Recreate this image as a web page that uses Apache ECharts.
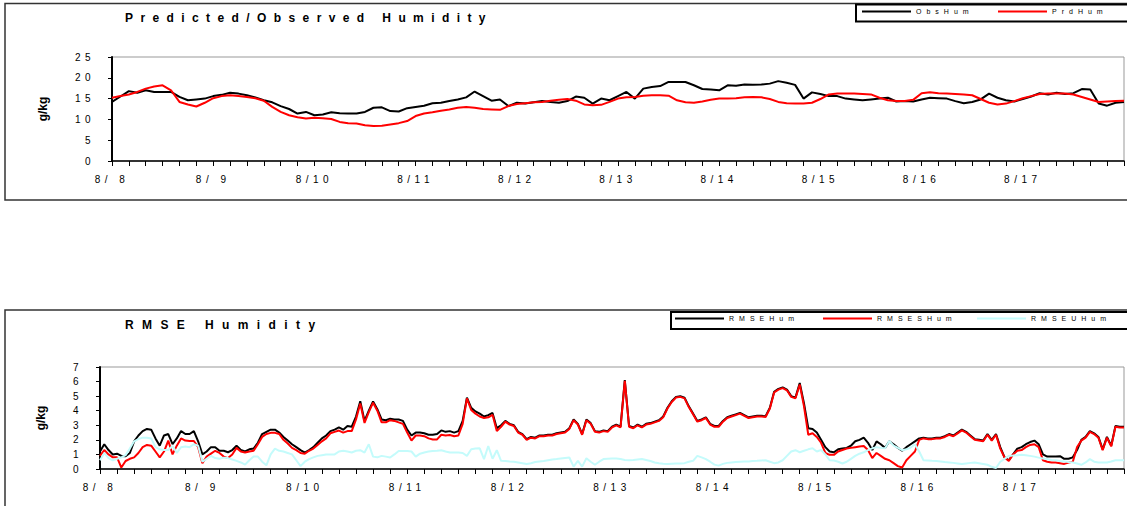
<!DOCTYPE html>
<html>
<head>
<meta charset="utf-8">
<script src="https://cdn.jsdelivr.net/npm/echarts@6/dist/echarts.min.js"></script>
<style>
  html, body { margin: 0; padding: 0; background: #fff; overflow: hidden; }
  #chart { width: 1127px; height: 506px; }
  /* the old chart uses very loose letter spacing */
  #chart text[style*="lsA"] { letter-spacing: 4.5px !important; }
  #chart text[style*="lsL"] { letter-spacing: 5px !important; }
  #chart text[style*="lsTa"] { letter-spacing: 7.4px !important; }
  #chart text[style*="lsTb"] { letter-spacing: 8.4px !important; }
</style>
</head>
<body>
<div id="chart"></div>
<script>
// x axis: hours from 8/8 00:00, one label per day
const dayLabels = ['8/ 8', '8/ 9', '8/10', '8/11', '8/12', '8/13', '8/14', '8/15', '8/16', '8/17', ''];

// top chart, one value every 2 hours
const humStep = 2;
const obsHum = [
  14.2, 15.5, 16.8, 16.4, 17.0, 16.6, 16.6, 16.6, 15.4, 14.6,
  14.8, 15.0, 15.6, 15.9, 16.4, 16.2, 15.8, 15.3, 14.6, 14.1,
  13.2, 12.5, 11.4, 11.8, 11.0, 11.2, 11.7, 11.5, 11.4, 11.4,
  11.8, 12.8, 12.9, 12.0, 11.9, 12.7, 13.0, 13.3, 13.9, 14.0,
  14.4, 14.8, 15.3, 16.7, 15.6, 14.5, 14.8, 13.2, 14.0, 13.8,
  14.1, 14.4, 14.2, 14.0, 14.4, 15.5, 15.2, 13.8, 15.0, 14.6,
  15.6, 16.6, 15.0, 17.4, 17.8, 18.0, 19.0, 19.0, 19.0, 18.2,
  17.3, 17.2, 17.0, 18.2, 18.1, 18.4, 18.3, 18.4, 18.6, 19.2,
  18.8, 18.3, 15.0, 16.5, 16.1, 15.6, 15.6, 15.0, 14.8, 14.6,
  14.8, 15.0, 15.2, 14.3, 14.4, 14.3, 14.8, 15.2, 15.1, 15.0,
  14.4, 13.9, 14.2, 14.8, 16.2, 15.2, 14.6, 14.3, 14.9, 15.5,
  16.3, 16.0, 16.4, 16.1, 16.3, 17.3, 17.2, 13.8, 13.3, 14.0,
  14.2
];
const prdHum = [
  15.2, 15.6, 16.0, 16.6, 17.4, 17.9, 18.2, 17.0, 14.2, 13.6,
  13.1, 14.0, 15.1, 15.6, 15.8, 15.6, 15.4, 15.1, 14.5, 13.0,
  11.8, 11.0, 10.5, 10.2, 10.4, 10.3, 10.1, 9.4, 9.1, 9.0,
  8.6, 8.4, 8.5, 8.8, 9.1, 9.6, 10.8, 11.4, 11.7, 12.1,
  12.4, 12.8, 13.0, 12.8, 12.5, 12.4, 12.3, 13.2, 13.7, 13.9,
  14.1, 14.2, 14.5, 14.7, 14.9, 14.5, 13.6, 13.4, 13.5, 14.2,
  15.0, 15.3, 15.4, 15.7, 15.8, 15.8, 15.7, 14.6, 14.1, 14.0,
  14.3, 14.7, 15.0, 15.0, 15.1, 15.3, 15.4, 15.3, 14.9, 14.2,
  13.9, 13.8, 13.8, 14.0, 14.9, 16.0, 16.2, 16.2, 16.2, 16.1,
  16.0, 15.2, 14.6, 14.4, 14.4, 14.7, 16.3, 16.5, 16.3, 16.2,
  16.1, 16.0, 15.8, 14.9, 14.0, 13.6, 13.8, 14.4, 15.1, 15.6,
  16.1, 16.2, 16.2, 16.2, 16.0, 15.4, 14.8, 14.2, 14.3, 14.4,
  14.5
];

// bottom chart, hourly
const rmseStep = 1;
const rmseHum = [
  1.2, 1.7, 1.3, 1.0, 1.05, 0.9, 0.88, 1.1, 1.9, 2.3, 2.6, 2.75,
  2.7, 2.1, 1.6, 2.3, 2.4, 1.7, 2.1, 2.6, 2.4, 2.4, 2.6, 1.9,
  1.0, 1.2, 1.5, 1.5, 1.25, 1.25, 1.15, 1.3, 1.6, 1.3, 1.2, 1.35,
  1.4, 1.8, 2.4, 2.55, 2.7, 2.7, 2.5, 2.2, 1.95, 1.7, 1.5, 1.3,
  1.13, 1.3, 1.5, 1.8, 2.1, 2.3, 2.6, 2.7, 2.85, 2.7, 2.95, 2.9,
  3.6, 4.65, 3.3, 4.0, 4.63, 4.1, 3.4, 3.35, 3.45, 3.4, 3.4, 3.3,
  2.7, 2.3, 2.5, 2.5, 2.45, 2.35, 2.35, 2.4, 2.65, 2.55, 2.6, 2.5,
  2.6, 3.3, 4.9, 4.2, 3.95, 3.8, 3.6, 3.7, 3.85, 2.8, 3.0, 3.3,
  3.1, 3.0, 2.55, 2.4, 2.05, 2.2, 2.15, 2.3, 2.3, 2.35, 2.35, 2.45,
  2.5, 2.55, 2.8, 3.4, 3.1, 2.4, 3.4, 3.15, 2.6, 2.55, 2.65, 2.6,
  2.9, 3.05, 2.9, 6.1, 2.95, 2.85, 3.05, 2.9, 3.1, 3.15, 3.25, 3.35,
  3.6, 4.2, 4.65, 4.95, 5.0, 4.9, 4.3, 3.8, 3.3, 3.4, 3.55, 3.1,
  2.95, 2.95, 3.3, 3.55, 3.65, 3.75, 3.85, 3.7, 3.55, 3.6, 3.65, 3.65,
  3.62, 4.2, 5.3, 5.5, 5.6, 5.45, 5.0, 4.9, 5.9, 4.5, 2.8, 2.75,
  2.5, 2.0, 1.5, 1.2, 1.15, 1.35, 1.4, 1.45, 1.6, 1.9, 2.0, 2.15,
  1.8, 1.3, 1.9, 1.7, 1.45, 1.9, 1.7, 1.45, 1.25, 1.5, 1.7, 1.9,
  2.1, 2.15, 2.1, 2.1, 2.15, 2.15, 2.25, 2.4, 2.3, 2.5, 2.7, 2.55,
  2.3, 2.05, 2.0, 1.95, 2.4, 2.0, 2.4, 1.5, 0.8, 0.6, 1.0, 1.4,
  1.5, 1.7, 1.85, 1.95, 1.7, 1.0, 0.85, 0.85, 0.85, 0.88, 0.7, 0.7,
  0.8, 1.3, 2.0, 2.2, 2.6, 2.45, 2.2, 1.35, 2.2, 1.6, 2.95, 2.9,
  2.9
];
const rmseSHum = [
  0.9, 1.3, 1.0, 0.8, 0.8, 0.1, 0.55, 0.7, 0.8, 1.1, 1.5, 1.65,
  1.6, 1.2, 0.8, 1.2, 1.95, 1.0, 1.6, 2.1, 1.95, 1.92, 1.92, 1.5,
  0.4, 0.85, 1.05, 1.25, 1.1, 0.85, 0.75, 1.0, 1.45, 1.2, 1.13, 1.2,
  1.25, 1.7, 2.2, 2.4, 2.48, 2.48, 2.4, 2.0, 1.75, 1.45, 1.3, 1.1,
  1.05, 1.25, 1.4, 1.65, 1.9, 2.1, 2.45, 2.55, 2.64, 2.5, 2.6, 2.6,
  3.4, 4.5, 3.16, 3.9, 4.55, 4.0, 3.2, 3.2, 3.35, 3.3, 3.2, 3.1,
  2.5, 1.95, 2.3, 2.3, 2.25, 2.1, 2.03, 2.03, 2.35, 2.3, 2.33, 2.25,
  2.3, 3.1, 4.85, 4.05, 3.8, 3.6, 3.5, 3.55, 3.72, 2.6, 2.9, 3.25,
  3.05, 2.95, 2.5, 2.35, 2.0, 2.15, 2.1, 2.25, 2.25, 2.3, 2.3, 2.4,
  2.45, 2.5, 2.75, 3.35, 3.05, 2.35, 3.35, 3.1, 2.55, 2.5, 2.6, 2.55,
  2.85, 3.0, 2.85, 6.05, 2.9, 2.8, 3.0, 2.85, 3.05, 3.1, 3.2, 3.3,
  3.55, 4.15, 4.6, 4.9, 4.95, 4.85, 4.25, 3.75, 3.25, 3.35, 3.5, 3.05,
  2.9, 2.9, 3.25, 3.5, 3.6, 3.7, 3.8, 3.65, 3.5, 3.55, 3.6, 3.6,
  3.57, 4.15, 5.25, 5.45, 5.55, 5.4, 4.95, 4.85, 5.8, 4.3, 2.35, 2.45,
  2.2, 1.8, 1.1, 0.97, 0.97, 1.2, 1.3, 1.4, 1.45, 1.5, 1.55, 1.58,
  1.3, 0.75, 1.1, 0.9, 0.7, 0.6, 0.4, 0.2, 0.1, 0.6, 0.9, 1.2,
  2.0, 2.1, 2.05, 2.05, 2.1, 2.1, 2.2, 2.35, 2.25, 2.45, 2.65, 2.5,
  2.25, 2.0, 1.95, 1.9, 2.35, 1.95, 2.35, 1.4, 0.79, 0.56, 1.0, 1.25,
  1.3, 1.5, 1.65, 1.7, 1.5, 0.6, 0.5, 0.45, 0.45, 0.4, 0.35, 0.45,
  0.5, 1.5, 1.95, 2.15, 2.55, 2.4, 2.15, 1.3, 2.15, 1.55, 2.9, 2.85,
  2.85
];
const rmseUHum = [
  0.6, 1.1, 0.75, 0.6, 0.7, 0.8, 0.95, 1.4, 1.9, 2.05, 2.15, 2.15,
  2.1, 1.5, 1.35, 1.3, 1.3, 1.58, 1.1, 1.5, 1.55, 1.5, 1.7, 1.6,
  0.5, 0.7, 0.9, 0.75, 0.7, 0.78, 0.75, 0.65, 0.56, 0.45, 0.3, 0.6,
  0.85, 0.85, 0.5, 0.25, 1.0, 1.4, 1.25, 1.2, 1.1, 1.0, 0.6, 0.2,
  0.5, 0.68, 0.8, 0.9, 0.95, 1.0, 1.0, 1.0, 1.2, 1.25, 1.2, 1.13,
  1.25, 1.29, 1.13, 1.7, 0.85, 0.8, 0.9, 0.85, 0.79, 1.0, 1.24, 1.24,
  1.24, 1.2, 0.85, 1.05, 1.13, 1.2, 1.24, 1.25, 1.29, 1.2, 1.13, 1.13,
  1.13, 1.1, 0.9, 1.35, 1.4, 1.42, 0.68, 1.58, 0.7, 1.29, 0.56, 0.55,
  0.52, 0.5, 0.45, 0.4, 0.34, 0.4, 0.48, 0.52, 0.55, 0.6, 0.65, 0.68,
  0.72, 0.76, 0.79, 0.16, 0.56, 0.16, 0.74, 0.5, 0.29, 0.5, 0.68, 0.7,
  0.72, 0.72, 0.68, 0.62, 0.6, 0.62, 0.65, 0.68, 0.62, 0.55, 0.45, 0.4,
  0.36, 0.34, 0.36, 0.38, 0.38, 0.4, 0.5, 0.56, 0.9, 0.8, 0.68, 0.5,
  0.3, 0.23, 0.35, 0.42, 0.45, 0.48, 0.5, 0.52, 0.52, 0.55, 0.56, 0.58,
  0.6, 0.5, 0.4, 0.45, 0.6, 0.9, 1.2, 1.29, 1.15, 1.25, 1.35, 1.42,
  1.2, 1.3, 1.0, 0.6, 0.58, 0.5, 0.38, 0.5, 0.7, 0.9, 1.05, 1.15,
  1.3, 1.42, 1.5, 1.45, 1.42, 1.92, 1.6, 1.45, 1.29, 1.35, 1.47, 1.7,
  1.2, 0.6, 0.58, 0.56, 0.55, 0.52, 0.48, 0.45, 0.42, 0.38, 0.34, 0.38,
  0.42, 0.45, 0.4, 0.35, 0.29, 0.15, 0.07, 0.5, 0.7, 0.9, 0.92, 0.95,
  0.97, 0.95, 0.9, 0.85, 0.78, 0.72, 0.68, 0.62, 0.6, 0.55, 0.52, 0.48,
  0.45, 0.38, 0.29, 0.45, 0.68, 0.5, 0.45, 0.45, 0.45, 0.52, 0.6, 0.6,
  0.6
];

const AXIS_FONT = 'lsA, Liberation Sans';
const LEGEND_FONT = 'lsL, Liberation Sans';

function toXY(values, step) {
  return values.map((v, i) => [i * step, v]);
}

function timeAxis(gridIndex) {
  return {
    gridIndex: gridIndex,
    type: 'value',
    min: 0,
    max: 240,
    interval: 4,
    axisLine: { lineStyle: { color: '#000', width: 1.5 } },
    axisTick: { length: 5, lineStyle: { color: '#000', width: 1 } },
    axisLabel: {
      margin: 13,
      fontSize: 10,
      fontFamily: AXIS_FONT,
      color: '#000',
      formatter: v => (v % 24 === 0 ? dayLabels[v / 24] : '')
    },
    splitLine: { show: false }
  };
}

function valueAxis(gridIndex, max, interval, nameGap) {
  return {
    gridIndex: gridIndex,
    type: 'value',
    min: 0,
    max: max,
    interval: interval,
    name: 'g/kg',
    nameLocation: 'middle',
    nameRotate: 90,
    nameGap: nameGap,
    nameTextStyle: { fontSize: 12, fontWeight: 'bold', fontFamily: 'Liberation Sans', color: '#000' },
    axisLine: { show: true, lineStyle: { color: '#000', width: 2 } },
    axisTick: { show: true, length: 4, lineStyle: { color: '#000' } },
    axisLabel: { margin: 17, fontSize: 10, fontFamily: AXIS_FONT, color: '#000' },
    splitLine: { show: false }
  };
}

function legendAt(name, left, top) {
  return {
    data: [name],
    left: left,
    top: top,
    padding: 0,
    icon: 'rect',
    itemWidth: 49,
    itemHeight: 2,
    selectedMode: false,
    textStyle: { fontSize: 7, fontFamily: LEGEND_FONT, color: '#000' }
  };
}

function lineSeries(name, color, xi, values, step) {
  return {
    name: name,
    type: 'line',
    xAxisIndex: xi,
    yAxisIndex: xi,
    data: toXY(values, step),
    showSymbol: false,
    lineStyle: { color: color, width: 2 },
    itemStyle: { color: color }
  };
}

const chart = echarts.init(document.getElementById('chart'), null, { renderer: 'svg' });
chart.setOption({
  animation: false,
  backgroundColor: '#fff',
  title: [
    { text: 'Predicted/Observed Humidity', left: 125, top: 12, padding: 0,
      textStyle: { fontSize: 12, fontWeight: 'bold', fontFamily: 'lsTa, Liberation Sans', color: '#000' } },
    { text: 'RMSE Humidity', left: 125, top: 319, padding: 0,
      textStyle: { fontSize: 12, fontWeight: 'bold', fontFamily: 'lsTb, Liberation Sans', color: '#000' } }
  ],
  legend: [
    legendAt('ObsHum', 862, 8),
    legendAt('PrdHum', 998, 8),
    legendAt('RMSEHum', 675, 315),
    legendAt('RMSESHum', 823, 315),
    legendAt('RMSEUHum', 977, 315)
  ],
  grid: [
    { left: 112, top: 57, width: 1025, height: 104, show: true, borderColor: '#999', borderWidth: 1 },
    { left: 100, top: 367, width: 1035, height: 102, show: true, borderColor: '#999', borderWidth: 1 }
  ],
  xAxis: [timeAxis(0), timeAxis(1)],
  yAxis: [valueAxis(0, 25, 5, 63), valueAxis(1, 7, 1, 53)],
  graphic: [
    { type: 'rect', shape: { x: 5, y: 3.5, width: 1200, height: 196.5 },
      style: { fill: 'none', stroke: '#333', lineWidth: 1.5 }, silent: true },
    { type: 'rect', shape: { x: 5, y: 310, width: 1200, height: 300 },
      style: { fill: 'none', stroke: '#333', lineWidth: 1.5 }, silent: true },
    { type: 'rect', shape: { x: 856, y: 4.5, width: 300, height: 17 },
      style: { fill: 'none', stroke: '#000', lineWidth: 2 }, silent: true },
    { type: 'rect', shape: { x: 671, y: 312, width: 500, height: 17 },
      style: { fill: 'none', stroke: '#000', lineWidth: 2 }, silent: true }
  ],
  series: [
    lineSeries('ObsHum', '#000000', 0, obsHum, humStep),
    lineSeries('PrdHum', '#ff0000', 0, prdHum, humStep),
    lineSeries('RMSEHum', '#000000', 1, rmseHum, rmseStep),
    lineSeries('RMSESHum', '#ff0000', 1, rmseSHum, rmseStep),
    lineSeries('RMSEUHum', '#c4fbfb', 1, rmseUHum, rmseStep)
  ]
});
</script>
</body>
</html>
